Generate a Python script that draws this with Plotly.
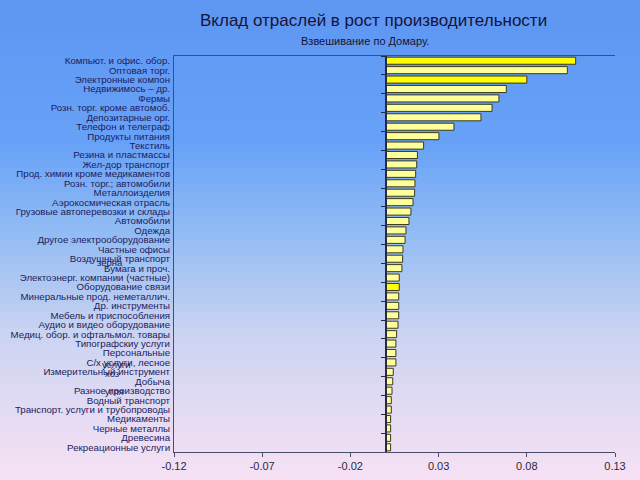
import plotly.graph_objects as go

categories = [
    "Компьют. и офис. обор.", "Оптовая торг.", "Электронные компон", "Недвижимось – др.",
    "Фермы", "Розн. торг. кроме автомоб.", "Депозитарные орг.", "Телефон и телеграф",
    "Продукты питания", "Текстиль", "Резина и пластмассы", "Жел-дор транспорт",
    "Прод. химии кроме медикаментов", "Розн. торг.; автомобили", "Металлоизделия",
    "Аэрокосмическая отрасль", "Грузовые автоперевозки и склады", "Автомобили", "Одежда",
    "Другое электрооборудование", "Частные офисы", "Воздушный транспорт", "Бумага и проч.",
    "Электоэнерг. компании (частные)", "Оборудование связи", "Минеральные прод. неметаллич.",
    "Др. инструменты", "Мебель и приспособления", "Аудио и видео оборудование",
    "Медиц. обор. и офтальмол. товары", "Типографскиу услуги", "Персональные",
    "С/х услуги, лесное", "Измерительный инструмент", "Добыча", "Разное производство",
    "Водный транспорт", "Транспорт. услуги и трубопроводы", "Медикаменты",
    "Черные металлы", "Древесина", "Рекреационные услуги",
]
values = [
    0.1077, 0.1030, 0.0800, 0.0684, 0.0642, 0.0603, 0.0540, 0.0387, 0.0302, 0.0215,
    0.0180, 0.0176, 0.0170, 0.0166, 0.0164, 0.0155, 0.0143, 0.0132, 0.0115, 0.0110,
    0.0098, 0.0096, 0.0092, 0.0077, 0.0077, 0.0074, 0.0074, 0.0074, 0.0070, 0.0062,
    0.0058, 0.0058, 0.0058, 0.0043, 0.0040, 0.0036, 0.0032, 0.0032, 0.0028, 0.0028,
    0.0028, 0.0028,
]
highlighted = ["Компьют. и офис. обор.", "Электронные компон", "Оборудование связи"]
tick_vals = [-0.12, -0.07, -0.02, 0.03, 0.08, 0.13]
tick_text = ["-0.12", "-0.07", "-0.02", "0.03", "0.08", "0.13"]

# stray wrapped label fragments seen in the original (text, x px, y px)
fragments = [("зерна", 110, 262), ("услуги", 116, 364), ("хоз", 112, 373), ("угля", 114, 391)]

text_col = "#1c1c5c"
colors = ["#FFFF00" if c in highlighted else "#FFFF99" for c in categories]

L, R, T, B = 174, 615, 56, 452
W, H = R - L, B - T

fig = go.Figure()
fig.add_trace(go.Bar(
    x=values, y=categories, orientation="h",
    marker=dict(color=colors, line=dict(color="#3a3a20", width=1)),
    showlegend=False, hoverinfo="x+y",
))
# invisible trace so the category axis at zero gets its ticks
fig.add_trace(go.Bar(x=[0] * len(categories), y=categories, orientation="h",
                     yaxis="y2", showlegend=False, hoverinfo="skip",
                     marker=dict(color="rgba(0,0,0,0)")))

# background gradient, blue at top to pale pink at bottom
stops = [(0.0, (94, 150, 242)), (0.3, (104, 162, 248)), (0.5, (150, 190, 244)),
         (0.7, (204, 212, 242)), (1.0, (248, 226, 245))]
shapes = []
n = 60
for i in range(n):
    t = (i + 0.5) / n
    for (a, ca), (b, cb) in zip(stops, stops[1:]):
        if a <= t <= b:
            f = (t - a) / (b - a)
            c = tuple(int(ca[k] + (cb[k] - ca[k]) * f) for k in range(3))
            break
    y0 = (B - (i + 1) * 480 / n) / H - 0.002
    y1 = (B - i * 480 / n) / H + 0.002
    if i == 0:
        y1 = 2
    if i == n - 1:
        y0 = -1
    shapes.append(dict(type="rect", xref="paper", yref="paper", layer="below",
                       x0=-1, x1=2, y0=y0, y1=y1,
                       line=dict(width=0), fillcolor="rgb(%d,%d,%d)" % c))

annotations = [
    dict(text="Вклад отраслей в рост производительности", x=(373 - L) / W, y=(B - 20) / H,
         xref="paper", yref="paper", showarrow=False, xanchor="center", yanchor="middle",
         font=dict(size=17, color="#14143a")),
    dict(text="Взвешивание по Домару.", x=(365 - L) / W, y=(B - 41) / H,
         xref="paper", yref="paper", showarrow=False, xanchor="center", yanchor="middle",
         font=dict(size=11, color="#14143a")),
]
for txt, px, py in fragments:
    annotations.append(dict(text=txt, x=(px - L) / W, y=(B - py) / H,
                            xref="paper", yref="paper", showarrow=False,
                            xanchor="center", yanchor="middle",
                            font=dict(size=9.5, color=text_col)))

fig.update_layout(
    width=640, height=480,
    margin=dict(l=L, r=640 - R, t=T, b=480 - B),
    paper_bgcolor="#b4c8f0",
    plot_bgcolor="rgba(0,0,0,0)",
    font=dict(family="Liberation Sans, Arial, sans-serif", color=text_col),
    bargap=0.25,
    shapes=shapes,
    annotations=annotations,
    xaxis=dict(range=[-0.12, 0.13], tickvals=tick_vals, ticktext=tick_text,
               showgrid=False, zeroline=False, showline=True, mirror=True,
               linecolor="#4a4a6a", linewidth=1, ticks="outside", ticklen=4,
               tickcolor="#4a4a6a", automargin=False,
               tickfont=dict(size=11, color="#2a2a40")),
    yaxis=dict(autorange="reversed", showgrid=False, zeroline=False,
               tickmode="array", tickvals=categories, automargin=False,
               showline=True, linecolor="#4a4a6a", linewidth=1, ticks="",
               tickfont=dict(size=9.7, color=text_col), ticklabelstandoff=1),
    yaxis2=dict(overlaying="y", matches="y", anchor="free", position=0.48,
                showline=True, linecolor="#2a2a3a", linewidth=1.5, ticks="outside",
                ticklen=4, tickcolor="#2a2a3a", showticklabels=False, showgrid=False,
                tickson="boundaries", automargin=False),
)

fig.write_html("out.html", config={"displayModeBar": False},
               post_script="document.body.style.margin='0';")
